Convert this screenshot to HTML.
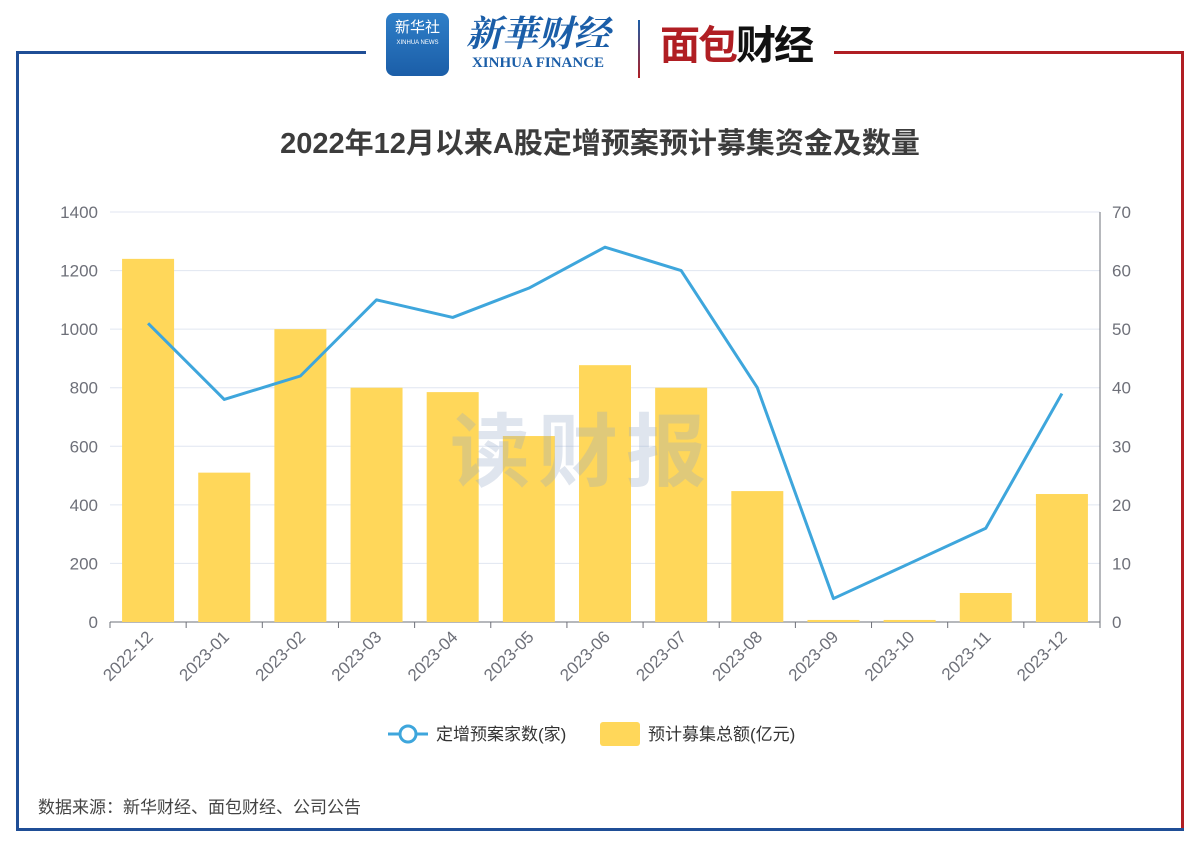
<!DOCTYPE html>
<html><head><meta charset="utf-8"><style>
body{margin:0;width:1200px;height:848px;background:#fff;position:relative;overflow:hidden;font-family:"Liberation Sans","Noto Sans CJK SC",sans-serif}
.abs{position:absolute}
</style></head><body>
<div class="abs" style="left:16px;top:51px;width:350px;height:3px;background:#1f4e96"></div>
<div class="abs" style="left:834px;top:51px;width:350px;height:3px;background:#b01e23"></div>
<div class="abs" style="left:16px;top:51px;width:3px;height:780px;background:#1f4e96"></div>
<div class="abs" style="left:1181px;top:51px;width:3px;height:780px;background:#b01e23"></div>
<div class="abs" style="left:16px;top:828px;width:1168px;height:3px;background:#1f4e96"></div>
<div class="abs" style="left:386px;top:13px;width:63px;height:63px;border-radius:8px;background:linear-gradient(#2f7fc8,#1b5ea8);color:#fff;text-align:center;font-size:15px;line-height:22px;padding-top:4px;box-sizing:border-box">新华社<div style="font-size:6px;line-height:8px">XINHUA NEWS</div></div>
<div class="abs" style="left:462px;top:10px;width:152px;color:#1b5ea8;text-align:center">
<div style="font-size:36px;line-height:44px;font-family:'Noto Serif CJK SC',serif;font-weight:bold;font-style:italic">新華财经</div>
<div style="font-family:'Liberation Serif',serif;font-weight:bold;font-size:15px;line-height:18px">XINHUA FINANCE</div></div>
<div class="abs" style="left:638px;top:20px;width:2px;height:58px;background:linear-gradient(#1b5ea8,#b01e23)"></div>
<div class="abs" style="left:660px;top:22px;font-size:40px;font-weight:bold;line-height:48px;letter-spacing:-2px"><span style="color:#b01e23">面包</span><span style="color:#111">财经</span></div>
<div class="abs" style="left:0;width:1200px;top:120px;text-align:center;font-size:29px;font-weight:bold;color:#3c3c3c">2022年12月以来A股定增预案预计募集资金及数量</div>
<svg class="abs" style="left:0;top:0" width="1200" height="848" id="chart"></svg>
<div class="abs" style="left:450px;top:388px;font-size:80px;font-weight:bold;color:rgba(150,170,200,0.3);letter-spacing:8px">读财报</div>
<div class="abs" style="left:38px;top:793px;font-size:17px;color:#444">数据来源：新华财经、面包财经、公司公告</div>
<script>
const categories=["2022-12","2023-01","2023-02","2023-03","2023-04","2023-05","2023-06","2023-07","2023-08","2023-09","2023-10","2023-11","2023-12"];
const amounts=[1240,510,1000,800,785,635,877,800,447,7,7,99,437];
const counts=[51,38,42,55,52,57,64,60,40,4,10,16,39];
const leftTicks=[0,200,400,600,800,1000,1200,1400];
const rightTicks=[0,10,20,30,40,50,60,70];
const NS="http://www.w3.org/2000/svg";
const svg=document.getElementById('chart');
const X0=110,X1=1100,Y0=622,Y1=212;
const band=(X1-X0)/categories.length;
const xc=i=>X0+band*(i+0.5);
const yl=v=>Y0-(v/1400)*(Y0-Y1);
const yr=v=>Y0-(v/70)*(Y0-Y1);
function mk(t,a,p){const e=document.createElementNS(NS,t);for(const k in a)e.setAttribute(k,a[k]);(p||svg).appendChild(e);return e;}
leftTicks.forEach((v,i)=>{
 const g=mk('line',{x1:X0,x2:X1,y1:yl(v),y2:yl(v),stroke:i==0?'#6e7079':'#e0e6f1','stroke-width':1});
 
 
 const t=mk('text',{x:X0-12,y:yl(v)+6,'text-anchor':'end','font-size':17,fill:'#6e7079'});t.textContent=v;
 
 
});
rightTicks.forEach(v=>{
 const t=mk('text',{x:X1+12,y:yr(v)+6,'font-size':17,fill:'#6e7079'});t.textContent=v;
 
 
});
const ra=mk('line',{x1:X1,x2:X1,y1:Y1,y2:Y0,stroke:'#6e7079'});


categories.forEach((c,i)=>{
 const tk=mk('line',{x1:X0+band*i,x2:X0+band*i,y1:Y0,y2:Y0+6,stroke:'#6e7079'});
 
 
 const b=mk('rect',{x:xc(i)-26,y:yl(amounts[i]),width:52,height:Y0-yl(amounts[i]),fill:'#ffd75a'});
 
 
 const t=mk('text',{x:xc(i)+6,y:Y0+16,'text-anchor':'end','font-size':17,fill:'#6e7079',transform:`rotate(-45 ${xc(i)+6} ${Y0+16})`});t.textContent=c;
 
 
});
const tkEnd=mk('line',{x1:X1,x2:X1,y1:Y0,y2:Y0+6,stroke:'#6e7079'});


const pl=mk('polyline',{points:counts.map((v,i)=>xc(i)+','+yr(v)).join(' '),fill:'none',stroke:'#3ea6dc','stroke-width':3,'stroke-linejoin':'round'});


const lg=mk('g',{});


mk('line',{x1:388,x2:428,y1:734,y2:734,stroke:'#3ea6dc','stroke-width':3},lg);
mk('circle',{cx:408,cy:734,r:8,fill:'#fff',stroke:'#3ea6dc','stroke-width':3},lg);
const l1=mk('text',{x:436,y:740,'font-size':17,fill:'#333'},lg);l1.textContent='定增预案家数(家)';


mk('rect',{x:600,y:722,width:40,height:24,rx:3,fill:'#ffd75a'},lg);
const l2=mk('text',{x:648,y:740,'font-size':17,fill:'#333'},lg);l2.textContent='预计募集总额(亿元)';


</script>
</body></html>
